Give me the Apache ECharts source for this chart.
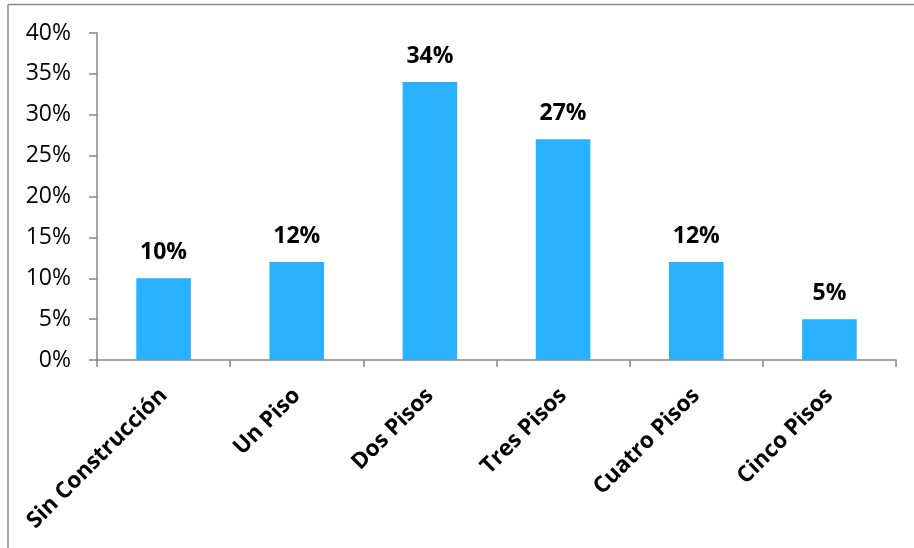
<!DOCTYPE html>
<html>
<head>
<meta charset="utf-8">
<script src="https://cdn.jsdelivr.net/npm/echarts@6/dist/echarts.min.js"></script>
<style>
html,body{margin:0;padding:0;background:#fff;}
#chart{width:914px;height:548px;}
</style>
</head>
<body>
<div id="chart"></div>
<script>
const categories = ["Sin Construcción", "Un Piso", "Dos Pisos", "Tres Pisos", "Cuatro Pisos", "Cinco Pisos"];
const values = [10, 12, 34, 27, 12, 5];
const yTicks = { min: 0, max: 40, interval: 5 };

const chart = echarts.init(document.getElementById('chart'));
const font = '"Open Sans", sans-serif';
chart.setOption({
  animation: false,
  backgroundColor: '#ffffff',
  graphic: [
    { type: 'line', shape: { x1: 8, y1: 4.5, x2: 914, y2: 4.5 }, style: { stroke: '#888888', lineWidth: 1.5 }, silent: true },
    { type: 'line', shape: { x1: 8, y1: 4.5, x2: 8, y2: 548 }, style: { stroke: '#888888', lineWidth: 1.5 }, silent: true }
  ],
  grid: { left: 97, right: 18, top: 33, bottom: 188, containLabel: false },
  xAxis: {
    type: 'category',
    data: categories,
    boundaryGap: true,
    axisLine: { lineStyle: { color: '#868686', width: 1.5 } },
    axisTick: { show: true, length: 7, alignWithLabel: false, lineStyle: { color: '#868686', width: 1.5 } },
    axisLabel: { rotate: 45, interval: 0, margin: 32, fontFamily: font, fontWeight: 'bold', fontSize: 22.5, color: '#000' }
  },
  yAxis: {
    type: 'value',
    min: yTicks.min, max: yTicks.max, interval: yTicks.interval,
    splitLine: { show: false },
    axisLine: { show: true, lineStyle: { color: '#868686', width: 1.5 } },
    axisTick: { show: true, length: 8, lineStyle: { color: '#868686', width: 1.5 } },
    axisLabel: { margin: 26, formatter: '{value}%', fontFamily: font, fontSize: 23, color: '#000' }
  },
  series: [{
    type: 'bar',
    data: values,
    barWidth: '41%',
    itemStyle: { color: '#29B1FF' },
    label: { show: true, position: 'top', distance: 14, formatter: '{c}%', fontFamily: font, fontWeight: 'bold', fontSize: 23, color: '#000' }
  }]
});
</script>
</body>
</html>
